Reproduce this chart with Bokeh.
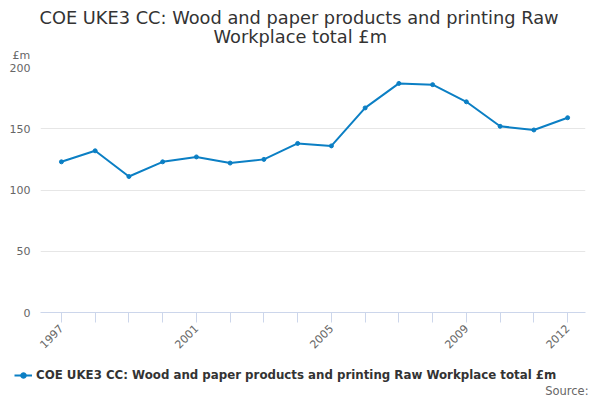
import math
from bokeh.plotting import figure
from bokeh.models import (Range1d, FixedTicker, Title, Label, Legend, LegendItem)
from bokeh.embed import file_html
from bokeh.resources import INLINE

#########################################################
# data
#########################################################

years = [1997, 1998, 1999, 2000, 2001, 2002, 2003, 2004,
         2005, 2006, 2007, 2008, 2009, 2010, 2011, 2012]
values = [123, 132, 111, 123, 127, 122, 125, 138,
          136, 167, 187, 186, 172, 152, 149, 159]
labelled_years = [1997, 2001, 2005, 2009, 2012]
y_ticks = [0, 50, 100, 150, 200]

title_1 = "COE UKE3 CC: Wood and paper products and printing Raw"
title_2 = "Workplace total £m"
series_name = "COE UKE3 CC: Wood and paper products and printing Raw Workplace total £m"
unit = "£m"
source = "Source:"

#########################################################
# plotting
#########################################################

font = "DejaVu Sans"
blue = "#0b7fc4"
x_start, x_end = 1996.38, 2012.53

p = figure(width=600, height=360, output_backend="svg", toolbar_location=None,
           x_range=Range1d(x_start, x_end), y_range=Range1d(0, 200),
           min_border_left=40, min_border_right=15, min_border_top=67,
           min_border_bottom=48)
p.title = None
p.outline_line_color = None

# stacked above the frame: unit first (closest), then the two title lines.
# offsets are from the frame's left edge, so the lines sit centred on the page
p.add_layout(Title(text=unit, align="left", offset=-28, text_font=font, text_font_size="11px",
                   text_font_style="normal", text_color="#666666", standoff=12), "above")
p.add_layout(Title(text=title_2, align="left", offset=173, text_font=font, text_font_size="17.8px",
                   text_font_style="normal", text_color="#333333", standoff=-12), "above")
p.add_layout(Title(text=title_1, align="left", offset=-1, text_font=font, text_font_size="17.8px",
                   text_font_style="normal", text_color="#333333", standoff=3), "above")

p.line(years, values, line_width=2, color=blue)
p.scatter(years, values, size=4, color=blue)

# x axis
p.xaxis.ticker = FixedTicker(ticks=years)
p.xaxis.major_label_overrides = {y: (str(y) if y in labelled_years else "") for y in years}
p.xaxis.major_label_orientation = math.pi / 4
p.xaxis.major_label_text_font = font
p.xaxis.major_label_text_font_size = "11px"
p.xaxis.major_label_text_color = "#666666"
p.xaxis.major_label_standoff = 4
p.xaxis.axis_line_color = "#ccd6eb"
p.xaxis.major_tick_line_color = "#ccd6eb"
p.xaxis.major_tick_out = 10
p.xaxis.major_tick_in = 0
p.xaxis.minor_tick_line_color = None
p.xgrid.grid_line_color = None

# y axis
p.yaxis.ticker = FixedTicker(ticks=y_ticks)
p.yaxis.major_label_text_font = font
p.yaxis.major_label_text_font_size = "11px"
p.yaxis.major_label_text_color = "#666666"
p.yaxis.axis_line_color = None
p.yaxis.major_tick_line_color = None
p.yaxis.major_tick_out = 0
p.yaxis.major_tick_in = 0
p.yaxis.minor_tick_line_color = None
p.yaxis.major_label_standoff = 10
p.ygrid.grid_line_color = "#e6e6e6"

# legend strip underneath; the series is drawn again far outside its view
# only so that the legend can sample its style
leg = figure(width=600, height=40, output_backend="svg", toolbar_location=None,
             x_range=Range1d(0, 1), y_range=Range1d(0, 1),
             x_axis_type=None, y_axis_type=None,
             min_border_left=0, min_border_right=0, min_border_top=0, min_border_bottom=0)
leg.title = None
leg.outline_line_color = None
leg.xgrid.grid_line_color = None
leg.ygrid.grid_line_color = None
sample_line = leg.line(years, values, line_width=2, color=blue)
sample_dot = leg.scatter(years, values, size=4, color=blue)

legend = Legend(items=[LegendItem(label=series_name, renderers=[sample_line, sample_dot])],
                orientation="horizontal", location=(14, 18),
                label_text_font=font, label_text_font_size="11.8px",
                label_text_font_style="bold", label_text_color="#333333",
                border_line_color=None, background_fill_alpha=0,
                glyph_width=18, glyph_height=14, label_height=14,
                label_standoff=4, padding=0, margin=0)
leg.add_layout(legend)

leg.add_layout(Label(x=588, y=10, x_units="screen", y_units="screen", text=source,
                     text_align="right", text_baseline="middle", text_font=font,
                     text_font_size="11.5px", text_color="#666666"))

open("out.html", "w").write(file_html([p, leg], INLINE))
